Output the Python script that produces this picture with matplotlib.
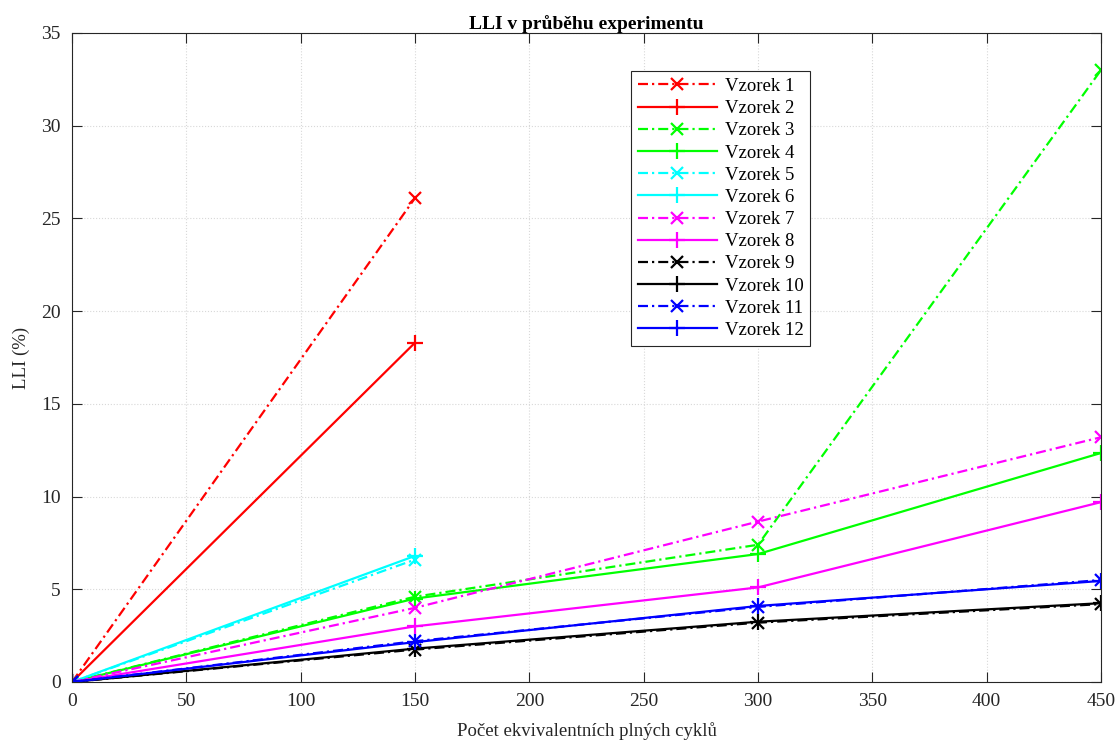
import numpy as np
import matplotlib.pyplot as plt

plt.rcParams['font.family'] = ['Liberation Serif', 'DejaVu Serif']

# equivalent full cycles
cycles_short = [0, 150]
cycles_long = [0, 150, 300, 450]

labels = ["Vzorek %d" % i for i in range(1, 13)]
lli_1 = [0, 26.1]
lli_2 = [0, 18.3]
lli_3 = [0, 4.6, 7.4, 33.0]
lli_4 = [0, 4.5, 6.9, 12.35]
lli_5 = [0, 6.6]
lli_6 = [0, 6.8]
lli_7 = [0, 4.0, 8.65, 13.2]
lli_8 = [0, 3.0, 5.1, 9.7]
lli_9 = [0, 1.75, 3.2, 4.2]
lli_10 = [0, 1.8, 3.25, 4.25]
lli_11 = [0, 2.2, 4.05, 5.5]
lli_12 = [0, 2.15, 4.1, 5.45]

series = [lli_1, lli_2, lli_3, lli_4, lli_5, lli_6,
          lli_7, lli_8, lli_9, lli_10, lli_11, lli_12]
colors = ['#ff0000', '#ff0000', '#00ff00', '#00ff00', '#00ffff', '#00ffff',
          '#ff00ff', '#ff00ff', '#000000', '#000000', '#0000ff', '#0000ff']

fig = plt.figure(figsize=(11.17, 7.46), dpi=100)
ax = fig.add_axes([0.0645, 0.0858, 0.9212, 0.870])

for i, y in enumerate(series):
    x = cycles_short if len(y) == 2 else cycles_long
    if i % 2 == 0:
        # odd samples: dash-dot with x markers
        ax.plot(x, y, linestyle=(0, (4.5, 1.8, 1, 1.8)), marker='x', color=colors[i],
                lw=1.6, ms=8.5, mew=1.6, label=labels[i])
    else:
        ax.plot(x, y, linestyle='-', marker='+', color=colors[i], lw=1.6,
                ms=12, mew=1.6, label=labels[i])

ax.set_xlim(0, 450)
ax.set_ylim(0, 35)
ax.set_xticks(np.arange(0, 451, 50))
ax.set_yticks(np.arange(0, 36, 5))
ax.tick_params(direction='in', top=True, right=True, labelsize=14, length=7,
               colors='#262626')
ax.tick_params(axis='x', pad=8)
ax.tick_params(axis='y', pad=8)
ax.grid(True, linestyle=':', color='#d8d8d8', lw=0.8)
for s in ax.spines.values():
    s.set_color('#262626')
    s.set_linewidth(0.8)

ax.set_xlabel("Počet ekvivalentních plných cyklů", fontsize=13.5, color='#262626', labelpad=9)
ax.set_ylabel("LLI (%)", fontsize=13.5, color='#262626', labelpad=8)
ax.set_title("LLI v průběhu experimentu", fontsize=14, fontweight='bold', pad=3)

leg = ax.legend(loc='upper left', bbox_to_anchor=(0.5435, 0.941), fontsize=13.5,
                fancybox=False, framealpha=1, edgecolor='#262626',
                handlelength=4.2, labelspacing=0.27, borderpad=0.35,
                handletextpad=0.45, borderaxespad=0)
leg.get_frame().set_linewidth(0.8)

fig.savefig("out.png", dpi=100)
